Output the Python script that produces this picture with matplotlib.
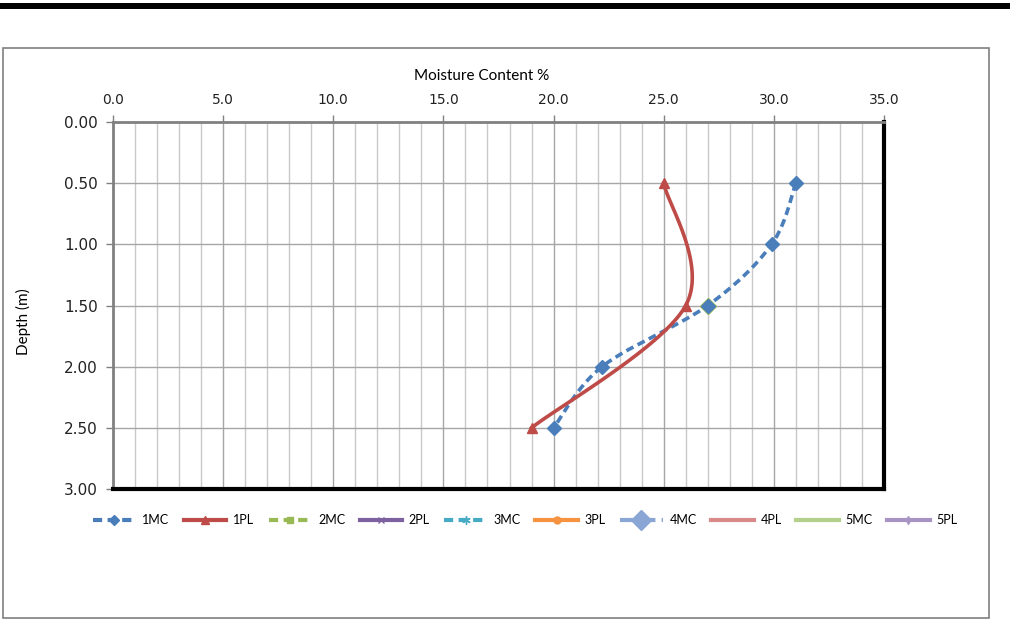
import numpy as np
import matplotlib
matplotlib.use("Agg")
import matplotlib.pyplot as plt
from matplotlib.lines import Line2D
from matplotlib.patches import Rectangle

# data
depth_mc1 = [0.5, 1.0, 1.5, 2.0, 2.5]
mc1 = [31.0, 29.9, 27.0, 22.2, 20.0]
depth_pl1 = [0.5, 1.5, 2.5]
pl1 = [25.0, 26.0, 19.0]
depth_mc2 = [1.5]
mc2 = [27.0]

x_ticks = [0, 5, 10, 15, 20, 25, 30, 35]
y_ticks = [0.0, 0.5, 1.0, 1.5, 2.0, 2.5, 3.0]

series_names = ["1MC", "1PL", "2MC", "2PL", "3MC", "3PL", "4MC", "4PL", "5MC", "5PL"]
series_colors = ["#4A7EBB", "#BE4B48", "#98B954", "#7D60A0", "#46AAC5",
                 "#F69240", "#8AA6D4", "#D88A89", "#B5D08D", "#A794C3"]
series_markers = ["D", "^", "s", "x", (6, 2, 0), "o", "D", None, None, "d"]
series_msize = [5, 6, 5, 5, 6, 5, 10, 0, 0, 4]
series_dashed = [True, False, True, False, True, False, True, False, False, False]


def smooth(xs, ys, n=40):
    """ Excel-style smoothed line: cubic bezier through the points """
    p = np.column_stack([xs, ys]).astype(float)
    if len(p) < 3:
        return p[:, 0], p[:, 1]
    ext = np.vstack([p[0], p, p[-1]])
    out = []
    t = np.linspace(0, 1, n)[:, None]
    for i in range(1, len(ext) - 2):
        p0, p3 = ext[i], ext[i + 1]
        c1 = p0 + (ext[i + 1] - ext[i - 1]) / 6
        c2 = p3 - (ext[i + 2] - ext[i]) / 6
        seg = ((1 - t) ** 3) * p0 + 3 * ((1 - t) ** 2) * t * c1 + 3 * (1 - t) * t ** 2 * c2 + t ** 3 * p3
        out.append(seg if i == 1 else seg[1:])
    out = np.vstack(out)
    return out[:, 0], out[:, 1]


fig = plt.figure(figsize=(10.1, 6.2), dpi=100)

# top black bar and chart frame
fig.add_artist(Rectangle((0, 1 - 9 / 620), 1, 6 / 620, transform=fig.transFigure,
                         color="black", lw=0))
fig.add_artist(Rectangle((3 / 1010, 2 / 620), 986 / 1010, 570 / 620, transform=fig.transFigure,
                         fill=False, edgecolor="#7F7F7F", lw=1.2))

ax = fig.add_axes([113 / 1010, 1 - 489 / 620, 771 / 1010, 367 / 620])
ax.set_xlim(0, 35)
ax.set_ylim(3.0, 0.0)

# grid
for xv in np.arange(1, 35, 1):
    ax.axvline(xv, color="#A6A6A6" if xv % 5 == 0 else "#C9C9C9", lw=1.0, zorder=0)
for yv in y_ticks[1:-1]:
    ax.axhline(yv, color="#A6A6A6", lw=1.0, zorder=0)

# series
x, y = smooth(mc1, depth_mc1)
ax.plot(x, y, color=series_colors[0], lw=2.6, ls=(0, (2.2, 1.3)), zorder=3)
ax.plot(mc2, depth_mc2, ls="none", marker="D", ms=8, color=series_colors[2], zorder=4)
ax.plot(mc1, depth_mc1, ls="none", marker="D", ms=7, color=series_colors[0], zorder=5)
x, y = smooth(pl1, depth_pl1)
ax.plot(x, y, color=series_colors[1], lw=2.6, zorder=3)
ax.plot(pl1, depth_pl1, ls="none", marker="^", ms=7, color=series_colors[1], zorder=5)

# axes styling
ax.xaxis.tick_top()
ax.set_xticks(x_ticks)
ax.set_xticklabels([f"{v:.1f}" for v in x_ticks], fontsize=10, color="#222222")
ax.set_yticks(y_ticks)
ax.set_yticklabels([f"{v:.2f}" for v in y_ticks], fontsize=11, color="#222222")
ax.tick_params(axis="x", length=5, width=1, color="#808080", pad=6)
ax.tick_params(axis="y", length=5, width=1, color="#808080", pad=6)
fig.text(482 / 1010, 1 - 76 / 620, "Moisture Content %", fontsize=11, family="Lato",
         ha="center", va="center")
fig.text(23 / 1010, 1 - 322 / 620, "Depth (m)", fontsize=11, family="Lato",
         ha="center", va="center", rotation=90)
ax.spines["top"].set_color("#808080")
ax.spines["top"].set_linewidth(2)
ax.spines["left"].set_color("#808080")
ax.spines["left"].set_linewidth(2)
ax.spines["bottom"].set_color("black")
ax.spines["bottom"].set_linewidth(3)
ax.spines["right"].set_color("black")
ax.spines["right"].set_linewidth(3)

# legend
handles = []
for i, name in enumerate(series_names):
    ls = (0, (2.2, 1.3)) if series_dashed[i] else "-"
    if i == 6:
        ls = (0, (3.5, 1.5))
    handles.append(Line2D([0], [0], color=series_colors[i], lw=3, ls=ls,
                          marker=series_markers[i] if series_markers[i] else None,
                          ms=series_msize[i], label=name))
fig.legend(handles=handles, loc="center", bbox_to_anchor=(0.52, 1 - 520 / 620), ncol=10,
           frameon=False, handlelength=3.4, columnspacing=1.15, handletextpad=0.55,
           prop={"family": "Lato", "size": 9})

fig.savefig("out.png", dpi=100)
